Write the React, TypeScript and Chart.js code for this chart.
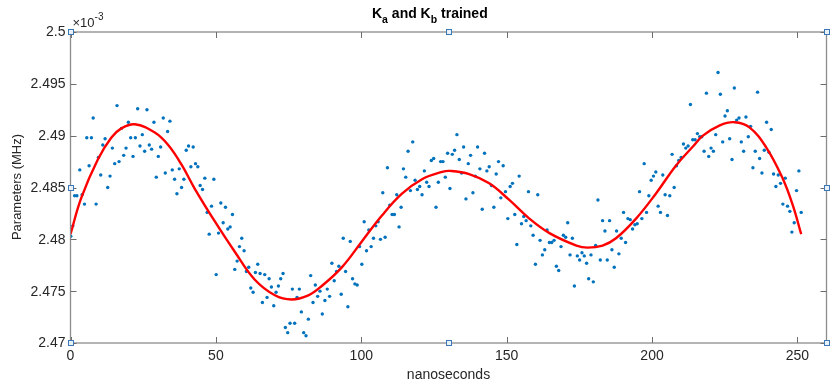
import { useEffect, useRef } from 'react';
import { Chart, registerables } from 'chart.js';

Chart.register(...registerables);

const xTicks = [0, 50, 100, 150, 200, 250];
const yTicks = [2.47, 2.475, 2.48, 2.485, 2.49, 2.495, 2.5];
const yTickLabels = ['2.47', '2.475', '2.48', '2.485', '2.49', '2.495', '2.5'];

// [nanoseconds, parameter (x10^-3 MHz)]
const samples: [number, number][] = [
  [0.1, 2.4803], [0.8, 2.4813], [1.4, 2.4842], [2.2, 2.4842], [3.2, 2.4867], [4.0, 2.4843], [4.8, 2.4834], [5.6, 2.4898],
  [6.4, 2.4871], [7.2, 2.4898], [7.8, 2.4917], [8.8, 2.4834], [9.6, 2.4879], [10.4, 2.4862], [11.1, 2.4891], [11.9, 2.4897],
  [12.8, 2.4850], [13.6, 2.4861], [14.4, 2.4888], [15.2, 2.4873], [16.0, 2.4929], [16.7, 2.4875], [17.5, 2.4907], [18.3, 2.4881],
  [19.1, 2.4888], [19.9, 2.4913], [20.7, 2.4898], [21.5, 2.4880], [22.3, 2.4898], [23.1, 2.4926], [23.9, 2.4890], [24.7, 2.4901],
  [25.5, 2.4885], [26.3, 2.4925], [27.1, 2.4891], [27.9, 2.4887], [28.7, 2.4913], [29.5, 2.4860], [30.2, 2.4880], [31.0, 2.4889],
  [31.9, 2.4917], [32.6, 2.4864], [33.4, 2.4904], [34.2, 2.4914], [35.0, 2.4867], [35.8, 2.4858], [36.6, 2.4844], [37.4, 2.4868],
  [38.2, 2.4850], [39.0, 2.4858], [39.8, 2.4886], [40.6, 2.4890], [41.4, 2.4870], [42.2, 2.4889],
  [43.0, 2.4873], [43.8, 2.4870], [44.6, 2.4852], [45.4, 2.4848], [46.2, 2.4859], [47.0, 2.4826], [47.7, 2.4805], [48.5, 2.4832],
  [49.3, 2.4858], [50.1, 2.4766], [50.9, 2.4806], [51.7, 2.4835], [52.5, 2.4816], [53.3, 2.4831], [54.1, 2.4810], [54.9, 2.4812],
  [55.7, 2.4824], [56.5, 2.4771], [57.3, 2.4779], [58.1, 2.4793], [58.9, 2.4801], [59.7, 2.4789], [60.5, 2.4769], [61.3, 2.4773],
  [62.0, 2.4753], [62.8, 2.4749], [63.6, 2.4768], [64.4, 2.4776], [65.2, 2.4767], [66.0, 2.4739], [66.8, 2.4766], [67.6, 2.4744],
  [68.3, 2.4762], [69.1, 2.4754], [69.9, 2.4736], [70.7, 2.4749], [71.5, 2.4755], [72.3, 2.4762], [73.1, 2.4767], [73.9, 2.4715],
  [74.7, 2.4710], [75.5, 2.4719], [76.3, 2.4752], [77.1, 2.4719], [77.9, 2.4744], [78.7, 2.4752], [79.4, 2.4730], [80.2, 2.4710],
  [81.0, 2.4707], [81.8, 2.4723], [82.6, 2.4765], [83.4, 2.4739], [84.2, 2.4756], [85.0, 2.4745], [85.8, 2.4750], [86.6, 2.4728],
  [87.5, 2.4741], [88.3, 2.4752], [89.1, 2.4745], [89.9, 2.4777], [90.7, 2.4760], [91.5, 2.4769], [92.3, 2.4774], [93.1, 2.4747],
  [93.8, 2.4801], [94.6, 2.4769], [95.4, 2.4735], [96.2, 2.4798], [97.0, 2.4762], [97.8, 2.4757], [98.6, 2.4756], [99.4, 2.4793],
  [100.2, 2.4776], [101.0, 2.4817], [101.8, 2.4789], [102.6, 2.4809], [103.4, 2.4793], [104.2, 2.4801], [105.0, 2.4813], [105.8, 2.4817],
  [106.6, 2.4800], [107.4, 2.4845], [108.2, 2.4802], [109.0, 2.4869], [109.8, 2.4833], [110.6, 2.4824], [111.4, 2.4824], [112.2, 2.4843],
  [113.0, 2.4812], [113.7, 2.4831], [114.5, 2.4868], [115.3, 2.4860], [116.1, 2.4885], [116.9, 2.4847], [117.7, 2.4894], [118.5, 2.4857],
  [119.3, 2.4848], [120.1, 2.4851], [120.9, 2.4843], [121.7, 2.4866], [122.5, 2.4855], [123.3, 2.4851], [124.1, 2.4876], [124.9, 2.4878],
  [125.7, 2.4831], [126.5, 2.4855], [127.3, 2.4875], [128.1, 2.4875], [128.9, 2.4860], [129.7, 2.4883],
  [130.5, 2.4849], [131.3, 2.4882], [132.1, 2.4886], [132.9, 2.4901], [133.7, 2.4877], [134.5, 2.4864], [135.2, 2.4889], [136.0, 2.4839],
  [136.8, 2.4873], [137.6, 2.4881], [138.4, 2.4845], [139.2, 2.4861], [140.0, 2.4889], [140.8, 2.4868], [141.6, 2.4829], [142.4, 2.4883],
  [143.2, 2.4866], [144.0, 2.4870], [144.8, 2.4852], [145.6, 2.4831], [146.4, 2.4863], [147.2, 2.4875], [148.0, 2.4840], [148.8, 2.4871],
  [149.6, 2.4846], [150.4, 2.4820], [151.2, 2.4851], [152.0, 2.4854], [152.8, 2.4824], [153.5, 2.4795], [154.3, 2.4861], [155.1, 2.4815],
  [155.9, 2.4822], [156.7, 2.4818], [157.5, 2.4846], [158.3, 2.4813], [159.1, 2.4804], [159.9, 2.4776], [160.7, 2.4843], [161.5, 2.4799],
  [162.3, 2.4785], [163.1, 2.4790], [163.9, 2.4809], [164.7, 2.4797], [165.5, 2.4797], [166.3, 2.4799], [167.1, 2.4774], [167.9, 2.4770],
  [168.7, 2.4793], [169.5, 2.4804], [170.3, 2.4802], [171.0, 2.4816], [171.8, 2.4785], [172.6, 2.4801], [173.3, 2.4755],
  [174.3, 2.4784], [175.1, 2.4780], [175.9, 2.4787], [176.7, 2.4784], [177.5, 2.4777], [178.2, 2.4762], [179.0, 2.4785], [179.8, 2.4759],
  [180.6, 2.4794], [181.4, 2.4838], [182.2, 2.4780], [183.0, 2.4818], [183.8, 2.4808], [184.6, 2.4780], [185.4, 2.4818], [186.2, 2.4790],
  [187.0, 2.4773], [187.8, 2.4808], [188.6, 2.4786], [189.4, 2.4801], [190.2, 2.4826], [190.9, 2.4797], [191.7, 2.4820], [192.5, 2.4819],
  [193.3, 2.4810], [194.1, 2.4814], [194.9, 2.4815], [195.7, 2.4846], [196.5, 2.4820], [197.3, 2.4873], [198.1, 2.4826], [198.9, 2.4842],
  [199.7, 2.4857], [200.5, 2.4861], [201.3, 2.4865], [202.1, 2.4832], [202.9, 2.4826], [203.7, 2.4862], [204.5, 2.4843], [205.3, 2.4823],
  [206.1, 2.4842], [206.9, 2.4882], [207.6, 2.4850], [208.4, 2.4871], [209.2, 2.4876], [210.0, 2.4879], [210.8, 2.4892], [211.6, 2.4888],
  [212.4, 2.4890], [213.2, 2.4930], [214.0, 2.4896], [214.8, 2.4896], [215.6, 2.4902], [216.4, 2.4899], [217.1, 2.4899],
  [217.9, 2.4885], [218.7, 2.4941], [219.5, 2.4880], [220.3, 2.4888], [221.1, 2.4885], [221.9, 2.4901], [222.7, 2.4961], [223.5, 2.4940],
  [224.3, 2.4894], [225.1, 2.4919], [225.9, 2.4924], [226.7, 2.4897], [227.5, 2.4877], [228.3, 2.4946], [229.1, 2.4915], [229.9, 2.4917],
  [230.7, 2.4894], [231.5, 2.4885], [232.3, 2.4918], [233.1, 2.4899], [233.9, 2.4909], [234.7, 2.4869], [235.5, 2.4885], [236.3, 2.4942],
  [237.0, 2.4878], [237.8, 2.4864], [238.6, 2.4886], [239.4, 2.4913], [240.2, 2.4884], [241.0, 2.4906], [241.8, 2.4863], [242.6, 2.4851],
  [243.4, 2.4862], [244.2, 2.4854], [245.0, 2.4834], [245.8, 2.4859], [246.6, 2.4832], [247.4, 2.4827], [248.1, 2.4807], [248.9, 2.4816],
  [249.7, 2.4847], [250.5, 2.4866], [251.3, 2.4826],
];

const fitNs = [0, 3.7, 9.4, 14, 17.5, 22.1, 29, 33.6, 38.2, 42.7, 49.7, 56.5, 63.4, 70.3, 76, 81.8, 86.4, 93.3, 100.2, 107.1, 114,
  120.9, 127.8, 130.5, 137.1, 144, 150.9, 157.8, 164.7, 174, 177.8, 183, 187.6, 194.5, 201.3, 208.2, 213.9, 217.5, 223.3, 228.4,
  233.5, 239.2, 244.9, 248.4, 251.3];
const fitMHz = [2.4805, 2.4840, 2.4877, 2.4898, 2.4907, 2.4911, 2.4903, 2.4891, 2.4872, 2.4849, 2.4817, 2.4788, 2.4761, 2.4746,
  2.4742, 2.4746, 2.4755, 2.4773, 2.4798, 2.4823, 2.4844, 2.4858, 2.4865, 2.4866, 2.4863, 2.4854, 2.4838, 2.4820, 2.4806, 2.4794,
  2.4792, 2.4794, 2.4801, 2.4820, 2.4844, 2.4871, 2.4889, 2.4900, 2.4910, 2.4913, 2.4908, 2.4889, 2.4859, 2.4833, 2.4805];

const handleNs = [0, 130, 260];
const handleMHz = [2.47, 2.485, 2.5];

const FONT = '"Liberation Sans", Arial, Helvetica, sans-serif';

const decor = {
  id: 'decor',
  afterDraw(chart: any) {
    const { ctx, chartArea: a, scales } = chart;
    const x = scales.x;
    const y = scales.y;
    ctx.save();
    // box
    ctx.strokeStyle = '#8c8c8c';
    ctx.lineWidth = 1.3;
    ctx.strokeRect(a.left, a.top, a.right - a.left, a.bottom - a.top);
    // ticks
    ctx.beginPath();
    ctx.lineWidth = 1;
    ctx.strokeStyle = '#6e6e6e';
    xTicks.forEach((v) => {
      const px = Math.round(x.getPixelForValue(v)) + 0.5;
      ctx.moveTo(px, a.bottom);
      ctx.lineTo(px, a.bottom - 6);
      ctx.moveTo(px, a.top);
      ctx.lineTo(px, a.top + 6);
    });
    yTicks.forEach((v) => {
      const py = Math.round(y.getPixelForValue(v)) + 0.5;
      ctx.moveTo(a.left, py);
      ctx.lineTo(a.left + 6, py);
      ctx.moveTo(a.right, py);
      ctx.lineTo(a.right - 6, py);
    });
    ctx.stroke();
    // tick labels
    ctx.fillStyle = '#262626';
    ctx.font = `14px ${FONT}`;
    ctx.textAlign = 'center';
    ctx.textBaseline = 'middle';
    xTicks.forEach((v) => {
      ctx.fillText(String(v), x.getPixelForValue(v), a.bottom + 13);
    });
    ctx.textAlign = 'right';
    yTicks.forEach((v, i) => {
      ctx.fillText(yTickLabels[i], a.left - 5, y.getPixelForValue(v) + 0.5);
    });
    // exponent
    ctx.textAlign = 'left';
    ctx.font = `13px ${FONT}`;
    ctx.fillText('\u00d710', a.left + 2, a.top - 9);
    const w = ctx.measureText('\u00d710').width;
    ctx.font = `10px ${FONT}`;
    ctx.fillText('-3', a.left + 2 + w, a.top - 15);
    // axis labels
    ctx.font = `14px ${FONT}`;
    ctx.textAlign = 'center';
    ctx.fillText('nanoseconds', (a.left + a.right) / 2, a.bottom + 32);
    ctx.save();
    ctx.translate(17, 187);
    ctx.rotate(-Math.PI / 2);
    ctx.font = `13px ${FONT}`;
    ctx.fillText('Parameters (MHz)', 0, 0);
    ctx.restore();
    // title with subscripts
    ctx.fillStyle = '#000';
    ctx.textAlign = 'left';
    ctx.textBaseline = 'alphabetic';
    const parts: [string, boolean][] = [['K', false], ['a', true], [' and K', false], ['b', true], [' trained', false]];
    let tx = 372;
    parts.forEach(([t, sub]) => {
      ctx.font = sub ? `bold 10.5px ${FONT}` : `bold 14px ${FONT}`;
      ctx.fillText(t, tx, sub ? 23 : 18);
      tx += ctx.measureText(t).width;
    });
    // selection handles
    ctx.strokeStyle = '#3b78b5';
    ctx.fillStyle = '#e8f0f8';
    ctx.lineWidth = 1;
    handleNs.forEach((hx, i) => {
      handleMHz.forEach((hy, j) => {
        if (i === 1 && j === 1) return;
        const px = Math.round(x.getPixelForValue(hx));
        const py = Math.round(y.getPixelForValue(hy));
        ctx.fillRect(px - 2.5, py - 2.5, 5, 5);
        ctx.strokeRect(px - 2.5, py - 2.5, 5, 5);
      });
    });
    ctx.restore();
  },
};

export default function App() {
  const ref = useRef<HTMLCanvasElement | null>(null);
  useEffect(() => {
    if (!ref.current) return;
    const chart = new Chart(ref.current, {
      type: 'scatter',
      data: {
        datasets: [
          {
            type: 'line',
            data: fitNs.map((n, i) => ({ x: n, y: fitMHz[i] })),
            borderColor: '#ff0000',
            borderWidth: 2.4,
            pointRadius: 0,
            tension: 0.4,
            fill: false,
            order: 0,
          } as any,
          {
            data: samples.map(([n, v]) => ({ x: n, y: v })),
            backgroundColor: '#0072bd',
            borderWidth: 0,
            pointRadius: 1.7,
            showLine: false,
            order: 1,
          },
        ],
      },
      options: {
        responsive: false,
        animation: false,
        devicePixelRatio: 1,
        layout: { padding: { left: 70.5, right: 4.5, top: 32, bottom: 41 } },
        plugins: { legend: { display: false }, tooltip: { enabled: false }, title: { display: false } },
        scales: {
          x: { type: 'linear', min: 0, max: 260, display: false },
          y: { type: 'linear', min: 2.47, max: 2.5, display: false },
        },
      },
      plugins: [decor],
    });
    return () => chart.destroy();
  }, []);
  return (
    <div style={{ position: 'absolute', left: 0, top: 0, width: 831, height: 384, background: '#fff' }}>
      <canvas ref={ref} width={831} height={384} />
    </div>
  );
}
